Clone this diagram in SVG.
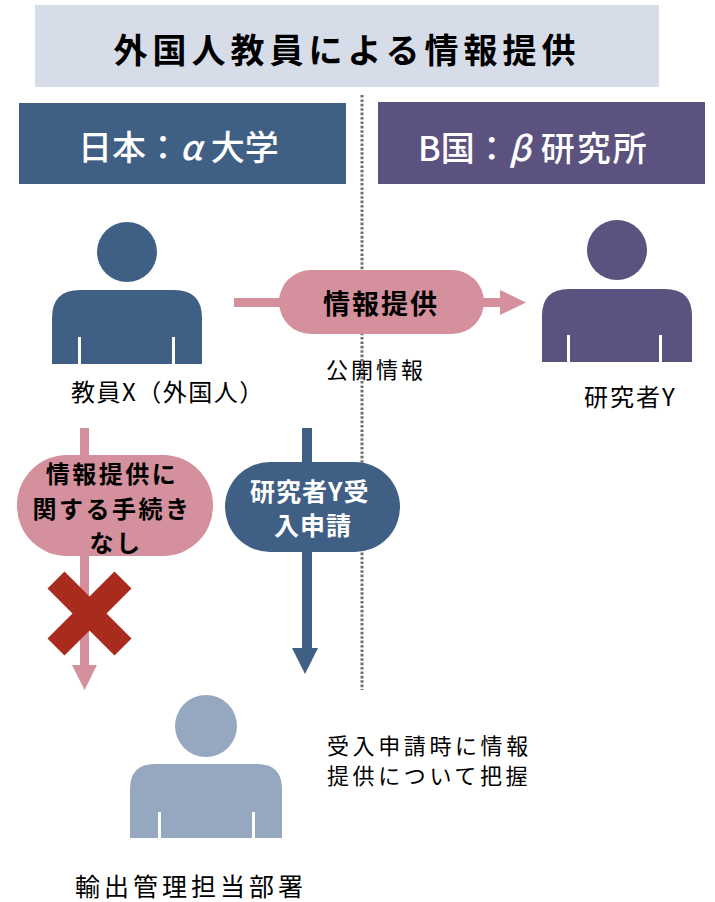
<svg xmlns="http://www.w3.org/2000/svg" width="715" height="902" viewBox="0 0 715 902">
<style>
text{font-family:"Noto Sans CJK JP","Noto Sans",sans-serif;}
.hdr{fill:#ffffff;font-size:34px;font-weight:500;}
.lbl{fill:#000000;font-size:24px;}
.bold{font-weight:bold;}
.slit{fill:#ffffff;}
</style>
<rect width="715" height="902" fill="#ffffff"/>
<g id="title">
<rect x="35" y="5" width="624" height="82" fill="#d6dce8"/>
<text x="347" y="63" font-size="34" class="bold" text-anchor="middle" letter-spacing="5" fill="#000">外国人教員による情報提供</text>
</g>
<g id="header-japan">
<rect x="19" y="103" width="327" height="81" fill="#3f5f84"/>
<text x="78" y="160" class="hdr">日本：<tspan font-style="italic">α</tspan><tspan dx="9">大学</tspan></text>
</g>
<g id="header-b">
<rect x="378" y="102" width="327" height="82" fill="#5c527f"/>
<text x="418" y="161" class="hdr">B国：<tspan font-style="italic">β</tspan><tspan dx="10" letter-spacing="2">研究所</tspan></text>
</g>
<g id="connectors">
<line x1="362" y1="95" x2="362" y2="690" stroke="#707070" stroke-width="3" stroke-dasharray="2.6 1.8"/>
<line x1="234" y1="302.5" x2="502" y2="302.5" stroke="#d4909c" stroke-width="9"/>
<polygon points="500,290 526,302.5 500,315" fill="#d4909c"/>
<line x1="84.5" y1="428" x2="84.5" y2="667" stroke="#d4909c" stroke-width="9"/>
<polygon points="72,665 97,665 84.5,690" fill="#d4909c"/>
<line x1="307" y1="428" x2="307" y2="650" stroke="#3f5f84" stroke-width="10"/>
<polygon points="292,648 318,648 305,674" fill="#3f5f84"/>
</g>
<g id="person-x">
<circle cx="127" cy="252" r="30" fill="#3f5f84"/>
<path d="M52,364 V318 Q52,290 80,290 H174 Q202,290 202,318 V364 Z" fill="#3f5f84"/>
<rect class="slit" x="78" y="337" width="3" height="28"/>
<rect class="slit" x="172" y="337" width="3" height="28"/>
<text x="71" y="401" class="lbl" letter-spacing="1.5">教員X（外国人）</text>
</g>
<g id="person-y">
<circle cx="617" cy="250" r="30" fill="#5c527f"/>
<path d="M542,362 V316 Q542,289 569,289 H665 Q692,289 692,316 V362 Z" fill="#5c527f"/>
<rect class="slit" x="567" y="335" width="3" height="28"/>
<rect class="slit" x="659" y="335" width="3" height="28"/>
<text x="584" y="406" class="lbl" letter-spacing="2">研究者Y</text>
</g>
<g id="info-pill">
<rect x="279" y="270" width="205" height="64" rx="32" fill="#d4909c"/>
<text x="381" y="314" font-size="27" class="bold" text-anchor="middle" letter-spacing="2" fill="#000">情報提供</text>
</g>
<text x="326" y="378" font-size="22" letter-spacing="3" fill="#000">公開情報</text>
<g id="no-procedure-pill">
<rect x="17" y="455" width="196" height="101" rx="50" fill="#d4909c"/>
<text font-size="24" class="bold" text-anchor="middle" letter-spacing="2.5" fill="#000">
<tspan x="116" y="483">情報提供に</tspan>
<tspan x="116" y="518">関する手続き</tspan>
<tspan x="116" y="552">なし</tspan>
</text>
</g>
<g id="cross">
<line x1="56" y1="580" x2="123" y2="647" stroke="#a82b1e" stroke-width="24"/>
<line x1="123" y1="580" x2="56" y2="647" stroke="#a82b1e" stroke-width="24"/>
</g>
<g id="request-pill">
<rect x="225" y="462" width="175" height="90" rx="45" fill="#3f5f84"/>
<text font-size="25" class="bold" text-anchor="middle" letter-spacing="1" fill="#ffffff">
<tspan x="313" y="501">研究者Y受</tspan>
<tspan x="313" y="535">入申請</tspan>
</text>
</g>
<g id="person-export">
<circle cx="206" cy="726" r="31" fill="#95a8c0"/>
<path d="M130,838 V789 Q130,764 155,764 H257 Q282,764 282,789 V838 Z" fill="#95a8c0"/>
<rect class="slit" x="158" y="812" width="3" height="27"/>
<rect class="slit" x="252" y="812" width="3" height="27"/>
<text x="75" y="896" font-size="25" letter-spacing="4" fill="#000">輸出管理担当部署</text>
</g>
<text font-size="22" letter-spacing="3.6" fill="#000">
<tspan x="327" y="754">受入申請時に情報</tspan>
<tspan x="327" y="784">提供について把握</tspan>
</text>
</svg>
